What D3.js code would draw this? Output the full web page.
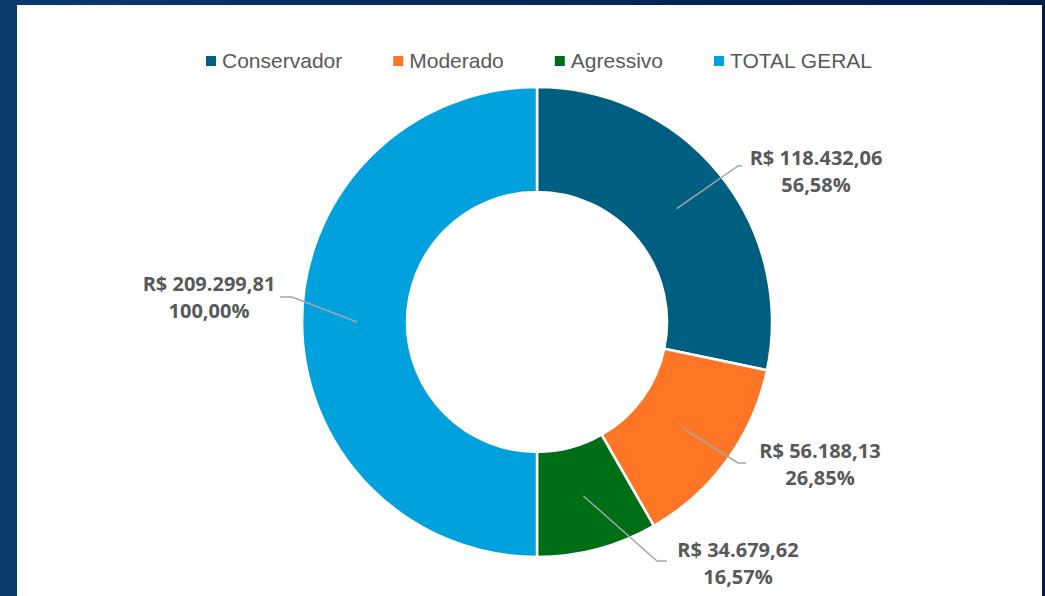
<!DOCTYPE html>
<html>
<head>
<meta charset="utf-8">
<script src="https://cdn.jsdelivr.net/npm/d3@7"></script>
<style>
  html, body { margin: 0; padding: 0; }
  body {
    width: 1045px; height: 596px; overflow: hidden;
    background: linear-gradient(to right, #0b3a70 0%, #062a5a 40%, #021d48 100%);
  }
  #chart { position: absolute; left: 17px; top: 5px; width: 1025px; height: 591px; background: #fff; }
  text { font-family: "Liberation Sans", Arial, sans-serif; fill: #595959; }
</style>
</head>
<body>
<div id="chart"></div>
<script>
// chart data
let categories = ["Conservador", "Moderado", "Agressivo", "TOTAL GERAL"];
let values = [118432.06, 56188.13, 34679.62, 209299.81];
let valueLabels = ["R$ 118.432,06", "R$ 56.188,13", "R$ 34.679,62", "R$ 209.299,81"];
let percentLabels = ["56,58%", "26,85%", "16,57%", "100,00%"];
let colors = ["#005f80", "#ff7526", "#006e14", "#00a1dc"];

var w = 1025,
	h = 591;

var cx = 520,
	cy = 317,
	outerR = 235,
	innerR = 130;

var svg = d3
	.select("#chart")
	.append("svg")
	.attr("width", w)
	.attr("height", h);

let colorScale = d3.scaleOrdinal().domain(categories).range(colors);

let pie = d3.pie().sort(null).value((d) => d.value);
let data = categories.map((c, i) => ({
	name: c,
	value: values[i],
	label: valueLabels[i],
	pct: percentLabels[i],
}));
let arcs = pie(data);

let arc = d3.arc().innerRadius(innerR).outerRadius(outerR);

let g = svg.append("g").attr("transform", "translate(" + cx + "," + cy + ")");

g.selectAll("path")
	.data(arcs)
	.enter()
	.append("path")
	.attr("d", arc)
	.attr("fill", (d) => colorScale(d.data.name))
	.attr("stroke", "white")
	.attr("stroke-width", 2.5);

// label placement (leader start inside slice, elbow, label centre)
let labelPos = [
	{ r: 180, ex: 201, ey: -156, hx: 205, tx: 279, ty: -157 },
	{ r: 180, ex: 201, ey: 141, hx: 209, tx: 283, ty: 136 },
	{ r: 180, ex: 120, ey: 239, hx: 130, tx: 201, ty: 235 },
	{ r: 180, ex: -245, ey: -25, hx: -257, tx: -328, ty: -31 },
];

let labels = g.selectAll(".lbl").data(arcs).enter().append("g").attr("class", "lbl");

labels
	.append("polyline")
	.attr("points", function (d, i) {
		let p = d3.arc().innerRadius(labelPos[i].r).outerRadius(labelPos[i].r).centroid(d);
		let q = labelPos[i];
		return [p, [q.ex, q.ey], [q.hx, q.ey]].map((a) => a.join(",")).join(" ");
	})
	.attr("fill", "none")
	.attr("stroke", "#a6a6a6")
	.attr("stroke-width", 1.5);

let txt = labels
	.append("text")
	.attr("text-anchor", "middle")
	.style("font-weight", "bold")
	.style("font-size", "20px")
	.style("font-family", "'Open Sans', sans-serif")
	.attr("x", (d, i) => labelPos[i].tx)
	.attr("y", (d, i) => labelPos[i].ty);

txt.append("tspan").attr("x", (d, i) => labelPos[i].tx).text((d) => d.data.label);
txt.append("tspan")
	.attr("x", (d, i) => labelPos[i].tx)
	.attr("dy", 27)
	.text((d) => d.data.pct);

// legend
let legend = svg.append("g").attr("id", "legend");
let items = legend
	.selectAll("g")
	.data(categories)
	.enter()
	.append("g");

items
	.append("rect")
	.attr("width", 10)
	.attr("height", 10)
	.attr("y", 51)
	.attr("fill", (d) => colorScale(d));

items
	.append("text")
	.attr("x", 16)
	.attr("y", 63)
	.attr("font-size", 21)
	.text((d) => d);

// spread legend items across centre
let x = 0;
let offsets = [];
items.each(function () {
	offsets.push(x);
	x += this.getBBox().width + 51;
});
let total = x - 51;
let start = cx + 2 - total / 2;
items.attr("transform", (d, i) => "translate(" + (start + offsets[i]) + ",0)");
</script>
</body>
</html>
